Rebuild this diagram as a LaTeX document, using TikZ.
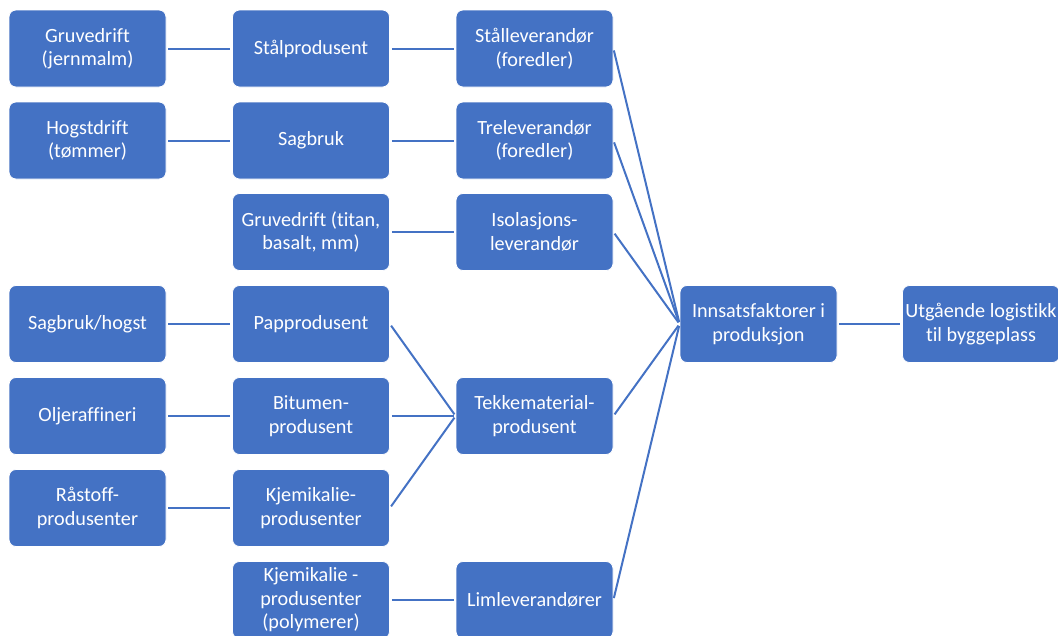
\documentclass[tikz,border=0pt]{standalone}
\usepackage{fontspec}
\setmainfont{Carlito}[Ligatures=NoCommon]
\definecolor{boxblue}{HTML}{4472C4}
\begin{document}
\begin{tikzpicture}[x=1pt,y=-1pt,
    nodes={rectangle, fill=boxblue, draw=white, line width=0.8pt, rounded corners=7pt,
      minimum width=157pt, minimum height=77pt, align=center, text=white, inner sep=2pt,
      font=\fontsize{20.2}{23.5}\selectfont},
    link/.style={draw=boxblue, line width=2pt, shorten >=2pt, shorten <=2pt}]
        \useasboundingbox (0,0) rectangle (1058,635);
        \clip (0,0) rectangle (1058,635);
        \node (gruvejern) at (87.5, 48.5) {Gruvedrift\\(jernmalm)};
        \node (staalprod) at (311, 48.5) {Stålprodusent};
        \node (staallev) at (534.5, 48.5) {Stålleverandør\\(foredler)};
        \node (hogst) at (87.5, 140.5) {Hogstdrift\\(tømmer)};
        \node (sagbruk) at (311, 140.5) {Sagbruk};
        \node (trelev) at (534.5, 140.5) {Treleverandør\\(foredler)};
        \node (gruvetitan) at (311, 232) {Gruvedrift (titan,\\basalt, mm)};
        \node (isolasjon) at (534.5, 232) {Isolasjons-\\leverandør};
        \node (sagbrukhogst) at (87.5, 324) {Sagbruk/hogst};
        \node (papp) at (311, 324) {Papprodusent};
        \node (olje) at (87.5, 416) {Oljeraffineri};
        \node (bitumen) at (311, 416) {Bitumen-\\produsent};
        \node (tekke) at (534.5, 416) {Tekkematerial-\\produsent};
        \node (raastoff) at (87.5, 508) {Råstoff-\\produsenter};
        \node (kjemi) at (311, 508) {Kjemikalie-\\produsenter};
        \node (kjemipoly) at (311, 600) {Kjemikalie -\\produsenter\\(polymerer)};
        \node (lim) at (534.5, 600) {Limleverandører};
        \node (innsats) at (758.5, 324) {Innsatsfaktorer i\\produksjon};
        \node (utgaaende) at (981, 324) {Utgående logistikk\\til byggeplass};
        % leverandorkjeder
        \draw[link] (gruvejern) -- (staalprod);
        \draw[link] (staalprod) -- (staallev);
        \draw[link] (hogst) -- (sagbruk);
        \draw[link] (sagbruk) -- (trelev);
        \draw[link] (gruvetitan) -- (isolasjon);
        \draw[link] (sagbrukhogst) -- (papp);
        \draw[link] (olje) -- (bitumen);
        \draw[link] (raastoff) -- (kjemi);
        \draw[link] (kjemipoly) -- (lim);
        \draw[link] (papp.east) -- (tekke.west);
        \draw[link] (bitumen.east) -- (tekke.west);
        \draw[link] (kjemi.east) -- (tekke.west);
        % inn i produksjon
        \draw[link] (staallev.east) -- (innsats.west);
        \draw[link] (trelev.east) -- (innsats.west);
        \draw[link] (isolasjon.east) -- (innsats.west);
        \draw[link] (tekke.east) -- (innsats.west);
        \draw[link] (lim.east) -- (innsats.west);
        \draw[link] (innsats) -- (utgaaende);
    \end{tikzpicture}
\end{document}
